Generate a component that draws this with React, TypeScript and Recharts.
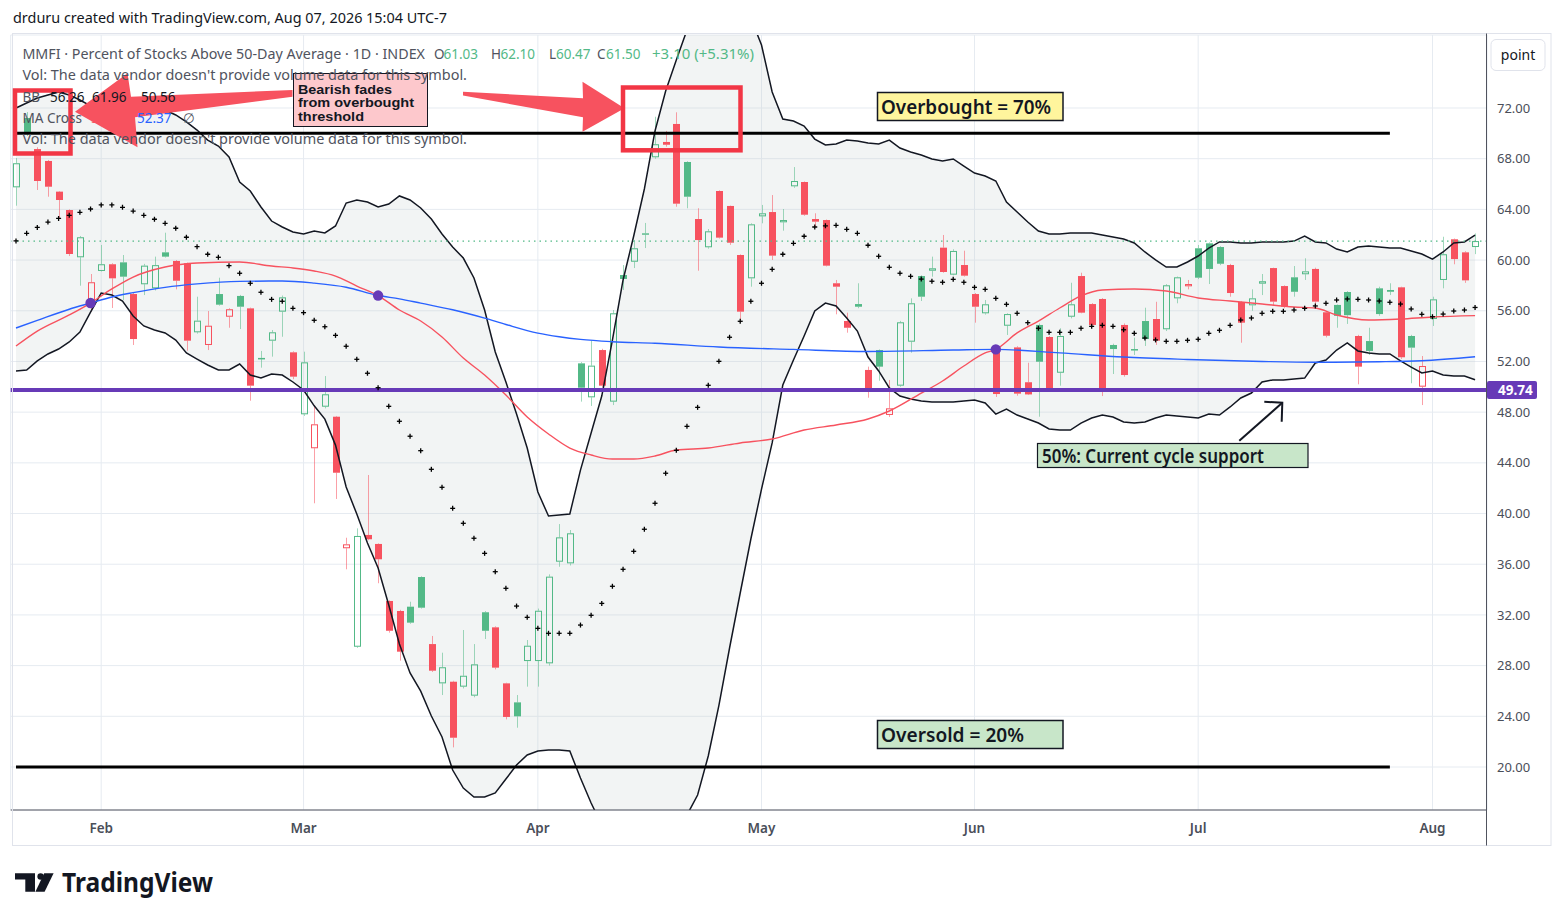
import React from 'react';
import { ComposedChart, Bar, Line, Area, XAxis, YAxis, CartesianGrid, ReferenceLine } from 'recharts';

// ---------- data ----------
const opens = [
  65.74, 71.21, 68.76, 67.82, 65.40, 63.95, 60.22, 56.85, 59.14, 59.67,
  59.82, 57.32, 58.09, 57.77, 60.61, 59.93, 59.75, 54.30, 53.30, 57.32,
  55.53, 57.17, 56.19, 52.20, 53.64, 55.93, 52.72, 47.83, 45.15, 48.43,
  47.64, 37.26, 29.49, 38.31, 37.60, 33.10, 32.31, 32.65, 34.99, 29.70,
  26.60, 26.73, 26.34, 25.63, 32.21, 31.02, 26.60, 25.10, 28.36, 28.36,
  28.18, 36.20, 36.07, 51.85, 49.17, 52.90, 48.83, 58.82, 59.87, 62.11,
  68.11, 69.32, 70.74, 67.74, 63.24, 61.01, 65.45, 64.27, 60.40, 58.56,
  63.45, 63.79, 62.98, 65.82, 66.16, 63.24, 63.16, 58.17, 55.19, 56.53,
  51.33, 52.90, 47.78, 50.09, 53.56, 58.74, 59.16, 60.98, 58.85, 59.61,
  57.32, 55.80, 53.16, 54.82, 53.11, 50.36, 54.88, 53.93, 51.11, 55.53,
  58.74, 56.53, 56.93, 53.30, 54.88, 52.93, 55.19, 55.35, 54.54, 56.98,
  57.93, 60.93, 61.32, 61.03, 59.61, 56.69, 56.43, 58.14, 59.37, 57.95,
  58.64, 58.88, 59.30, 55.88, 56.46, 57.48, 54.01, 53.61, 57.77, 57.64,
  57.85, 54.01, 50.01, 55.35, 58.43, 61.64, 60.61, 61.03,
];
const highs = [
  68.05, 71.68, 68.90, 67.90, 65.45, 64.00, 61.90, 58.90, 61.19, 59.75,
  60.40, 57.40, 59.70, 60.27, 62.16, 60.00, 59.80, 57.11, 55.98, 58.61,
  56.20, 57.25, 56.25, 52.83, 54.48, 57.20, 52.80, 52.77, 48.56, 50.85,
  47.70, 38.09, 38.83, 43.04, 37.65, 33.15, 32.40, 33.04, 35.05, 30.34,
  29.02, 26.80, 30.81, 29.70, 32.30, 31.10, 26.65, 25.68, 30.02, 32.50,
  35.20, 39.17, 38.70, 51.95, 53.64, 53.00, 56.06, 59.61, 61.58, 62.93,
  71.31, 70.19, 71.66, 67.80, 64.09, 62.45, 65.50, 64.30, 60.45, 62.90,
  64.35, 65.13, 64.03, 67.34, 66.20, 63.69, 63.20, 58.43, 55.85, 58.17,
  51.59, 52.95, 50.54, 55.20, 56.98, 58.80, 60.27, 61.98, 60.85, 60.74,
  57.40, 56.85, 53.30, 55.80, 53.20, 51.90, 55.00, 54.00, 54.62, 58.21,
  59.00, 56.60, 57.00, 53.40, 55.00, 53.88, 56.24, 56.71, 58.10, 58.70,
  58.43, 61.19, 61.40, 61.10, 59.70, 56.75, 57.69, 58.90, 59.40, 58.00,
  59.53, 60.14, 59.40, 55.95, 56.50, 57.55, 54.10, 54.66, 57.90, 58.17,
  57.90, 54.10, 52.43, 57.11, 61.84, 61.70, 60.70, 62.10,
];
const lows = [
  64.29, 69.79, 65.53, 65.00, 63.24, 60.32, 57.98, 55.93, 59.10, 56.22,
  56.85, 53.30, 57.24, 57.60, 60.20, 57.69, 52.85, 54.20, 52.90, 56.40,
  54.66, 54.56, 48.90, 51.51, 52.38, 53.95, 50.60, 47.70, 40.81, 48.30,
  41.15, 35.60, 29.40, 37.90, 34.50, 30.60, 28.39, 31.30, 32.50, 27.50,
  25.68, 21.55, 26.20, 25.50, 30.10, 27.70, 23.76, 23.10, 26.34, 26.34,
  28.00, 35.80, 35.90, 48.83, 48.49, 50.00, 48.56, 57.64, 59.37, 60.95,
  68.00, 68.95, 64.21, 64.09, 59.16, 60.90, 61.70, 61.20, 55.27, 57.90,
  62.90, 60.01, 62.32, 65.70, 63.50, 62.63, 59.50, 55.72, 54.27, 56.20,
  49.14, 50.48, 47.62, 50.00, 52.69, 56.77, 58.69, 59.00, 58.80, 58.70,
  55.06, 55.70, 49.20, 54.09, 49.30, 49.35, 47.64, 49.80, 50.09, 55.40,
  55.80, 54.80, 49.27, 51.01, 50.80, 52.51, 53.22, 53.30, 54.40, 56.59,
  57.69, 58.50, 58.11, 59.60, 57.11, 53.48, 56.00, 57.24, 56.38, 56.20,
  57.11, 58.43, 56.38, 53.90, 54.66, 54.96, 50.20, 52.51, 55.60, 57.24,
  52.20, 50.28, 48.56, 54.80, 57.77, 59.67, 58.20, 60.47,
];
const closes = [
  67.64, 70.03, 66.24, 65.79, 64.74, 60.48, 61.80, 58.25, 59.67, 58.56,
  58.69, 53.77, 59.56, 59.60, 60.27, 58.37, 53.64, 55.22, 54.82, 56.48,
  56.12, 56.32, 50.09, 52.28, 54.30, 57.06, 50.80, 51.93, 47.04, 49.41,
  43.22, 37.57, 38.23, 37.97, 36.39, 30.75, 29.10, 31.39, 32.57, 27.60,
  27.87, 22.31, 27.20, 28.10, 30.75, 27.84, 23.95, 24.00, 29.57, 32.33,
  35.02, 38.12, 38.44, 49.93, 51.67, 50.09, 55.80, 58.51, 60.93, 62.00,
  69.14, 69.10, 64.45, 65.00, 61.58, 62.27, 61.77, 61.37, 55.93, 62.82,
  63.69, 60.35, 63.16, 66.24, 63.58, 63.03, 59.56, 57.90, 54.66, 56.32,
  49.88, 51.59, 48.30, 55.09, 56.59, 57.11, 59.35, 59.06, 60.72, 58.77,
  56.32, 56.51, 49.43, 55.74, 49.46, 49.40, 51.98, 49.88, 54.01, 56.51,
  55.85, 54.88, 49.88, 52.98, 50.93, 52.98, 53.77, 53.64, 58.01, 58.64,
  58.11, 58.61, 59.30, 59.71, 57.40, 55.06, 56.98, 58.33, 56.72, 56.32,
  57.50, 59.11, 56.72, 54.03, 55.60, 55.65, 51.59, 52.83, 55.74, 57.50,
  52.33, 53.09, 51.64, 56.90, 60.46, 60.08, 58.40, 61.50,
];
const bbUpper = [
  72.00, 72.39, 72.79, 73.03, 73.26, 73.03, 72.63, 72.16, 71.68, 71.76,
  71.84, 72.08, 72.24, 72.08, 71.84, 71.45, 70.90, 70.26, 69.47, 69.00,
  68.13, 66.16, 65.45, 64.19, 63.08, 62.61, 62.22, 62.06, 62.29, 62.14,
  62.69, 64.50, 64.74, 64.58, 64.19, 64.42, 65.06, 64.74, 64.11, 63.24,
  62.06, 61.03, 60.16, 58.59, 56.06, 52.75, 50.38, 47.85, 45.17, 41.70,
  39.80, 39.88, 39.96, 43.43, 46.35, 49.27, 53.69, 58.43, 61.90, 65.61,
  70.19, 73.34, 75.79, 78.15, 79.73, 80.92, 81.47, 81.47, 80.68, 79.10,
  76.97, 73.26, 71.13, 70.97, 70.58, 69.55, 69.08, 69.16, 69.47, 69.40,
  69.24, 69.16, 69.47, 68.84, 68.53, 68.29, 67.98, 67.82, 67.98, 67.42,
  66.87, 66.63, 66.24, 64.58, 63.79, 63.00, 62.29, 62.06, 62.06, 62.14,
  62.14, 62.14, 61.98, 61.82, 61.66, 61.35, 60.64, 60.01, 59.45, 59.45,
  59.85, 60.32, 60.95, 61.43, 61.43, 61.35, 61.35, 61.43, 61.43, 61.43,
  61.50, 61.90, 61.43, 61.35, 60.87, 60.64, 61.03, 61.11, 61.03, 60.95,
  60.95, 60.72, 60.48, 60.08, 60.64, 61.35, 61.43, 61.96,
];
const bbLower = [
  51.25, 51.33, 52.04, 52.59, 52.98, 53.54, 54.32, 55.90, 57.40, 57.24,
  56.77, 55.59, 54.80, 54.48, 54.25, 53.69, 52.67, 52.19, 51.72, 51.33,
  51.33, 51.80, 50.93, 50.69, 51.01, 50.93, 50.38, 49.75, 48.50, 47.45,
  45.40, 42.09, 39.96, 37.67, 35.70, 32.78, 29.70, 27.42, 25.99, 24.02,
  22.37, 19.76, 18.34, 17.63, 17.63, 17.95, 19.05, 20.16, 20.95, 21.26,
  21.34, 21.34, 21.26, 19.13, 17.16, 15.42, 13.84, 12.66, 12.03, 11.87,
  12.26, 13.29, 14.63, 16.21, 17.79, 20.87, 24.87, 29.39, 33.73, 37.99,
  41.93, 45.57, 50.14, 52.11, 54.01, 55.98, 56.61, 56.38, 55.43, 54.40,
  52.35, 51.25, 49.91, 49.27, 49.04, 48.88, 48.80, 48.80, 48.80, 48.88,
  48.96, 48.72, 47.85, 48.25, 47.77, 47.46, 47.14, 46.67, 46.59, 46.59,
  47.14, 47.54, 47.77, 47.62, 47.22, 47.14, 47.22, 47.54, 47.77, 47.70,
  47.62, 47.54, 47.85, 47.77, 48.41, 49.12, 49.51, 50.38, 50.54, 50.54,
  50.62, 50.69, 51.88, 52.11, 52.90, 53.46, 52.83, 52.67, 52.59, 52.59,
  52.04, 51.56, 51.09, 51.25, 50.93, 50.85, 50.85, 50.56,
];
const bbBasis = [
  61.51, 62.11, 62.58, 63.00, 63.29, 63.53, 63.77, 64.03, 64.35, 64.35,
  64.16, 63.87, 63.53, 63.22, 62.90, 62.51, 61.80, 61.06, 60.46, 60.22,
  59.56, 58.96, 58.17, 57.46, 56.90, 56.75, 56.19, 55.85, 55.25, 54.74,
  54.06, 53.20, 52.17, 51.07, 49.93, 48.46, 47.28, 46.10, 44.96, 43.49,
  42.07, 40.41, 39.23, 38.05, 36.86, 35.41, 34.10, 32.70, 31.81, 30.94,
  30.55, 30.55, 30.55, 31.20, 31.97, 32.91, 34.26, 35.60, 37.02, 38.76,
  40.81, 43.18, 44.99, 46.88, 48.38, 50.12, 52.01, 53.91, 55.17, 56.75,
  58.17, 59.27, 60.46, 61.32, 61.88, 62.61, 62.70, 62.74, 62.43, 62.11,
  61.17, 60.30, 59.43, 58.96, 58.72, 58.50, 58.33, 58.25, 58.48, 58.25,
  57.85, 57.69, 56.98, 56.51, 55.80, 55.06, 54.62, 54.30, 54.30, 54.30,
  54.62, 54.77, 54.85, 54.77, 54.50, 54.22, 53.85, 53.70, 53.59, 53.59,
  53.67, 53.75, 54.22, 54.46, 54.85, 55.27, 55.43, 55.80, 55.96, 55.96,
  56.06, 56.19, 56.38, 56.59, 56.85, 56.93, 56.90, 56.85, 56.77, 56.67,
  56.53, 56.14, 55.72, 55.53, 55.74, 55.98, 56.06, 56.26,
];
// 50-day MA (red), sampled bars
const ma50Idx = [0, 2, 5, 7, 9, 11, 14, 17, 21, 24, 26, 28, 30, 32, 34, 36, 38, 40, 42, 44, 46, 48, 50, 52, 54, 56, 58, 60, 62, 65, 68, 71, 74, 77, 80, 82, 85, 87, 89, 91, 92, 94, 96, 98, 100, 102, 105, 108, 111, 114, 117, 120, 122, 124, 127, 130, 133, 137];
const ma50Val = [53.22, 54.40, 55.67, 56.61, 57.72, 58.66, 59.45, 59.77, 59.85, 59.53, 59.38, 59.14, 58.74, 57.95, 57.20, 56.06, 55.19, 53.93, 52.27, 50.93, 49.35, 47.62, 46.28, 45.17, 44.62, 44.30, 44.30, 44.54, 45.01, 45.17, 45.57, 45.88, 46.59, 46.99, 47.46, 48.09, 49.50, 50.46, 51.64, 52.67, 52.95, 54.25, 55.19, 56.22, 57.17, 57.64, 57.72, 57.56, 57.01, 56.77, 56.53, 56.30, 56.22, 55.67, 55.27, 55.35, 55.51, 55.62];
// 200-day MA (blue), sampled bars
const ma200Idx = [0, 2, 5, 7, 9, 11, 14, 17, 21, 25, 28, 31, 34, 36, 38, 41, 44, 46, 49, 51, 53, 56, 60, 66, 73, 80, 88, 92, 98, 104, 110, 117, 122, 128, 132, 137];
const ma200Val = [54.64, 55.24, 56.12, 56.61, 57.09, 57.43, 57.85, 58.12, 58.32, 58.35, 58.18, 57.86, 57.20, 56.94, 56.60, 56.08, 55.42, 54.92, 54.24, 53.95, 53.74, 53.56, 53.44, 53.14, 52.95, 52.79, 52.90, 52.95, 52.68, 52.35, 52.16, 52.00, 51.94, 51.98, 52.06, 52.37];
// MA cross markers
const crossIdx = [7, 34, 92];
const crossVal = [56.61, 57.20, 52.95];

const monthTicks = [8, 27, 49, 70, 90, 111, 133];
const monthLabels = ['Feb', 'Mar', 'Apr', 'May', 'Jun', 'Jul', 'Aug'];
const yTicks = [20, 24, 28, 32, 36, 40, 44, 48, 52, 56, 60, 64, 68, 72];
const overbought = 70;
const oversold = 20;
const support = 49.74;
const lastPrice = 61.5;
const levelEndIdx = 129;

// ---------- styles ----------
const GREEN = '#53b987';
const RED = '#f7525f';
const BOX_RED = '#f23645';
const PURPLE = '#673ab7';
const FONT = "'Noto Sans', 'DejaVu Sans', sans-serif";
const NOTE_FONT = "'Liberation Sans', Arial, sans-serif";
const AXIS_TEXT = '#4a4e59';

const toMap = (idx: number[], val: number[]) => {
  const m = new Map<number, number>();
  idx.forEach((k, j) => m.set(k, val[j]));
  return m;
};
const ma50Map = toMap(ma50Idx, ma50Val);
const ma200Map = toMap(ma200Idx, ma200Val);
const crossMap = toMap(crossIdx, crossVal);

const data = opens.map((o, i) => ({
  i,
  o,
  h: highs[i],
  l: lows[i],
  c: closes[i],
  range: [lows[i], highs[i]],
  band: [bbLower[i], bbUpper[i]],
  up: bbUpper[i],
  lo: bbLower[i],
  basis: bbBasis[i],
  ma50: ma50Map.has(i) ? ma50Map.get(i) : null,
  ma200: ma200Map.has(i) ? ma200Map.get(i) : null,
  cross: crossMap.has(i) ? crossMap.get(i) : null,
}));

const Candle = (props: any) => {
  const { x, y, width, height, payload } = props;
  if (!payload || x == null || y == null) return null;
  const { o, h, l, c, i } = payload;
  const rising = i === 0 ? true : c >= closes[i - 1];
  const color = rising ? GREEN : RED;
  const hollow = c > o;
  const span = h - l;
  const pix = (v: number) => (span > 0 ? y + ((h - v) / span) * height : y);
  const cx = Math.round(x + width / 2) + 0.5;
  const top = pix(Math.max(o, c));
  const bot = pix(Math.min(o, c));
  const bh = Math.max(bot - top, 1.2);
  const bx = cx - 3.5;
  return (
    <g>
      <line x1={cx} x2={cx} y1={y} y2={top} stroke={color} strokeOpacity={0.55} strokeWidth={1} />
      <line x1={cx} x2={cx} y1={top + bh} y2={y + height} stroke={color} strokeOpacity={0.55} strokeWidth={1} />
      {hollow ? (
        <rect x={bx + 0.5} y={top + 0.5} width={6} height={Math.max(bh - 1, 0.5)} fill="none" stroke={color} strokeWidth={1} />
      ) : (
        <rect x={bx} y={top} width={7} height={bh} fill={color} />
      )}
    </g>
  );
};

const PlusDot = (p: any) => {
  const { cx, cy, index } = p;
  if (cx == null || cy == null || isNaN(cy)) return <g key={'p' + index} />;
  return (
    <g key={'p' + index}>
      <line x1={cx - 2.5} x2={cx + 2.5} y1={cy} y2={cy} stroke="#000" strokeWidth={1.3} />
      <line x1={cx} x2={cx} y1={cy - 2.5} y2={cy + 2.5} stroke="#000" strokeWidth={1.3} />
    </g>
  );
};

const CrossDot = (p: any) => {
  const { cx, cy, index, value } = p;
  if (value == null || cx == null || cy == null || isNaN(cy)) return <g key={'c' + index} />;
  return <circle key={'c' + index} cx={cx} cy={cy} r={5.2} fill={PURPLE} />;
};

const SupportTag = (props: any) => {
  const vb = props.viewBox || {};
  const right = (vb.x || 0) + (vb.width || 0);
  const yy = vb.y || 0;
  return (
    <g>
      <rect x={right} y={yy - 9} width={50} height={18} rx={2} fill={PURPLE} />
      <text x={right + 11} y={yy + 4.8} fill="#fff" fontSize={13.5} fontWeight={700} fontFamily={FONT}>
        {support.toFixed(2)}
      </text>
    </g>
  );
};

const Overlay = () => {
  const legGray = '#50535e';
  return (
    <svg width={1564} height={921} style={{ position: 'absolute', left: 0, top: 0, pointerEvents: 'none' }} fontFamily={FONT}>
      {/* frame */}
      <rect x={12.5} y={33.5} width={1538.5} height={812} fill="none" stroke="#e0e3eb" strokeWidth={1} />
      <line x1={1486.5} x2={1486.5} y1={33.5} y2={845.5} stroke="#50535e" strokeWidth={1} />
      {/* header */}
      <text x={13} y={23} fontSize={14} fill="#131722" textLength={434} lengthAdjust="spacingAndGlyphs">
        drduru created with TradingView.com, Aug 07, 2026 15:04 UTC-7
      </text>
      {/* point button */}
      <rect x={1491} y={39.5} width={54} height={31} rx={5} fill="#fff" stroke="#e0e3eb" />
      <text x={1518} y={59.5} fontSize={14} fill="#131722" textAnchor="middle">point</text>

      {/* fat arrows */}
      <polygon points="75,111.7 127.5,73.3 131,96.7 292.5,90 292.5,96.7 135,117.3 137.5,147.3" fill={RED} />
      <polygon points="463,91.7 583,98.3 582.5,81.7 624.5,108.3 582.5,131.7 583,117.3 463,95.5" fill={RED} />

      {/* pink note */}
      <rect x={293.5} y={73.5} width={134} height={53} fill="#fdc8cc" stroke="#131722" strokeWidth={1} />
      <g fontSize={12.1} fontWeight={700} fill="#131722" fontFamily={NOTE_FONT}>
        <text x={298} y={93.8} textLength={94} lengthAdjust="spacingAndGlyphs">Bearish fades</text>
        <text x={298} y={107.4} textLength={116} lengthAdjust="spacingAndGlyphs">from overbought</text>
        <text x={298} y={121} textLength={66} lengthAdjust="spacingAndGlyphs">threshold</text>
      </g>

      {/* red rectangles */}
      <rect x={15} y={90.5} width={55.5} height={63} fill="none" stroke={BOX_RED} strokeWidth={4.5} />
      <rect x={623} y={87.5} width={117.5} height={62.8} fill="none" stroke={BOX_RED} strokeWidth={4.5} />

      {/* overbought / oversold labels */}
      <rect x={877.5} y={92.5} width={185.5} height={28} fill="#fff59d" stroke="#131722" strokeWidth={1.5} />
      <text x={881} y={114} fontSize={19} fontWeight={600} fill="#131722" textLength={170} lengthAdjust="spacingAndGlyphs">
        Overbought = 70%
      </text>
      <rect x={877.5} y={720.5} width={185.5} height={28} fill="#c8e6c9" stroke="#131722" strokeWidth={1.5} />
      <text x={881} y={742} fontSize={19} fontWeight={600} fill="#131722" textLength={143} lengthAdjust="spacingAndGlyphs">
        Oversold = 20%
      </text>

      {/* support note + arrow */}
      <rect x={1037.5} y={443.5} width={270.5} height={24} fill="#c8e6c9" stroke="#131722" strokeWidth={1.2} />
      <text x={1042} y={462.5} fontSize={19} fontWeight={600} fill="#131722" textLength={222} lengthAdjust="spacingAndGlyphs">
        50%: Current cycle support
      </text>
      <line x1={1239.3} y1={440.7} x2={1282} y2={403} stroke="#131722" strokeWidth={2} />
      <polyline points="1264.3,401.7 1282.3,402.8 1281.7,421.7" fill="none" stroke="#131722" strokeWidth={2} />

      {/* legend (drawn on top, like the TradingView legend) */}
      <g fontSize={13.5}>
        <text x={22.4} y={59.3} fill={legGray} textLength={402.6} lengthAdjust="spacingAndGlyphs">
          MMFI · Percent of Stocks Above 50-Day Average · 1D · INDEX
        </text>
        <text x={434} y={59.3} fill={legGray}>O</text>
        <text x={443.5} y={59.3} fill={GREEN}>61.03</text>
        <text x={491} y={59.3} fill={legGray}>H</text>
        <text x={500.5} y={59.3} fill={GREEN}>62.10</text>
        <text x={549} y={59.3} fill={legGray}>L</text>
        <text x={556} y={59.3} fill={GREEN}>60.47</text>
        <text x={597} y={59.3} fill={legGray}>C</text>
        <text x={606} y={59.3} fill={GREEN}>61.50</text>
        <text x={652} y={59.3} fill={GREEN} textLength={102} lengthAdjust="spacingAndGlyphs">+3.10 (+5.31%)</text>

        <text x={22.4} y={79.5} fill={legGray} textLength={444.6} lengthAdjust="spacingAndGlyphs">
          Vol: The data vendor doesn't provide volume data for this symbol.
        </text>

        <text x={22.4} y={101.7} fill={legGray}>BB</text>
        <text x={50} y={101.7} fill="#131722">56.26</text>
        <text x={92} y={101.7} fill="#131722">61.96</text>
        <text x={141} y={101.7} fill="#131722">50.56</text>

        <text x={22.4} y={122.7} fill={legGray} textLength={59.6} lengthAdjust="spacingAndGlyphs">MA Cross</text>
        <text x={91} y={122.7} fill={RED}>55.62</text>
        <text x={137} y={122.7} fill="#2962ff">52.37</text>
        <text x={183} y={122.7} fill={legGray}>∅</text>

        <text x={22.4} y={143.5} fill={legGray} textLength={444.6} lengthAdjust="spacingAndGlyphs">
          Vol: The data vendor doesn't provide volume data for this symbol.
        </text>
      </g>

      {/* TradingView logo */}
      <g fill="#131722">
        <path d="M15,873.3 H35 V891.7 H25.3 V879.6 H15 Z" />
        <circle cx={40.6} cy={876.5} r={3.2} />
        <path d="M44.2,873.3 H53.6 L44.6,891.7 H35.4 Z" />
      </g>
      <text x={62} y={891.7} fontSize={26} fontWeight={700} fill="#131722" textLength={151} lengthAdjust="spacingAndGlyphs">
        TradingView
      </text>
    </svg>
  );
};

export default function App() {
  return (
    <div style={{ position: 'absolute', left: 0, top: 0, width: 1564, height: 921, background: '#fff', overflow: 'hidden', fontFamily: FONT }}>
      <ComposedChart
        width={1564}
        height={921}
        data={data}
        margin={{ top: 35, right: 14, bottom: 76, left: 10.675 }}
        style={{ position: 'absolute', left: 0, top: 0 }}
      >
        <CartesianGrid stroke="#e6ebf1" strokeWidth={1} />
        <XAxis
          dataKey="i"
          type="category"
          ticks={monthTicks}
          interval={0}
          tickFormatter={(v: any) => monthLabels[monthTicks.indexOf(Number(v))] || ''}
          padding={{ left: 0, right: 6.6 }}
          axisLine={{ stroke: '#50535e' }}
          tickLine={false}
          tickSize={0}
          tickMargin={13}
          height={35}
          tick={{ fontSize: 13.5, fill: AXIS_TEXT, fontFamily: FONT, fontWeight: 600 }}
        />
        <YAxis
          orientation="right"
          type="number"
          domain={[16.607, 77.76]}
          allowDataOverflow
          ticks={yTicks}
          interval={0}
          tickFormatter={(v: any) => Number(v).toFixed(2)}
          width={63}
          axisLine={false}
          tickLine={false}
          tickSize={0}
          tickMargin={10}
          tick={{ fontSize: 13, fill: AXIS_TEXT, fontFamily: FONT }}
        />
        <Area dataKey="band" type="linear" stroke="none" fill="#c4cfcf" fillOpacity={0.22} isAnimationActive={false} activeDot={false} />
        <Line dataKey="up" type="linear" stroke="#131722" strokeWidth={1.5} dot={false} activeDot={false} isAnimationActive={false} />
        <Line dataKey="lo" type="linear" stroke="#131722" strokeWidth={1.5} dot={false} activeDot={false} isAnimationActive={false} />
        <Line dataKey="ma200" type="monotone" connectNulls stroke="#2962ff" strokeWidth={1.4} dot={false} activeDot={false} isAnimationActive={false} />
        <Line dataKey="ma50" type="monotone" connectNulls stroke={RED} strokeWidth={1.4} dot={false} activeDot={false} isAnimationActive={false} />
        <Line dataKey="basis" stroke="none" dot={PlusDot} activeDot={false} isAnimationActive={false} />
        <Bar dataKey="range" barSize={7} shape={Candle} isAnimationActive={false} />
        <Line dataKey="cross" stroke="none" dot={CrossDot} activeDot={false} isAnimationActive={false} />
        <ReferenceLine y={lastPrice} stroke={GREEN} strokeDasharray="1.5 4" strokeWidth={1.2} />
        <ReferenceLine segment={[{ x: 0, y: overbought }, { x: levelEndIdx, y: overbought }]} stroke="#000" strokeWidth={3} />
        <ReferenceLine segment={[{ x: 0, y: oversold }, { x: levelEndIdx, y: oversold }]} stroke="#000" strokeWidth={3} />
        <ReferenceLine y={support} stroke={PURPLE} strokeWidth={4} label={<SupportTag />} />
      </ComposedChart>
      <Overlay />
    </div>
  );
}
